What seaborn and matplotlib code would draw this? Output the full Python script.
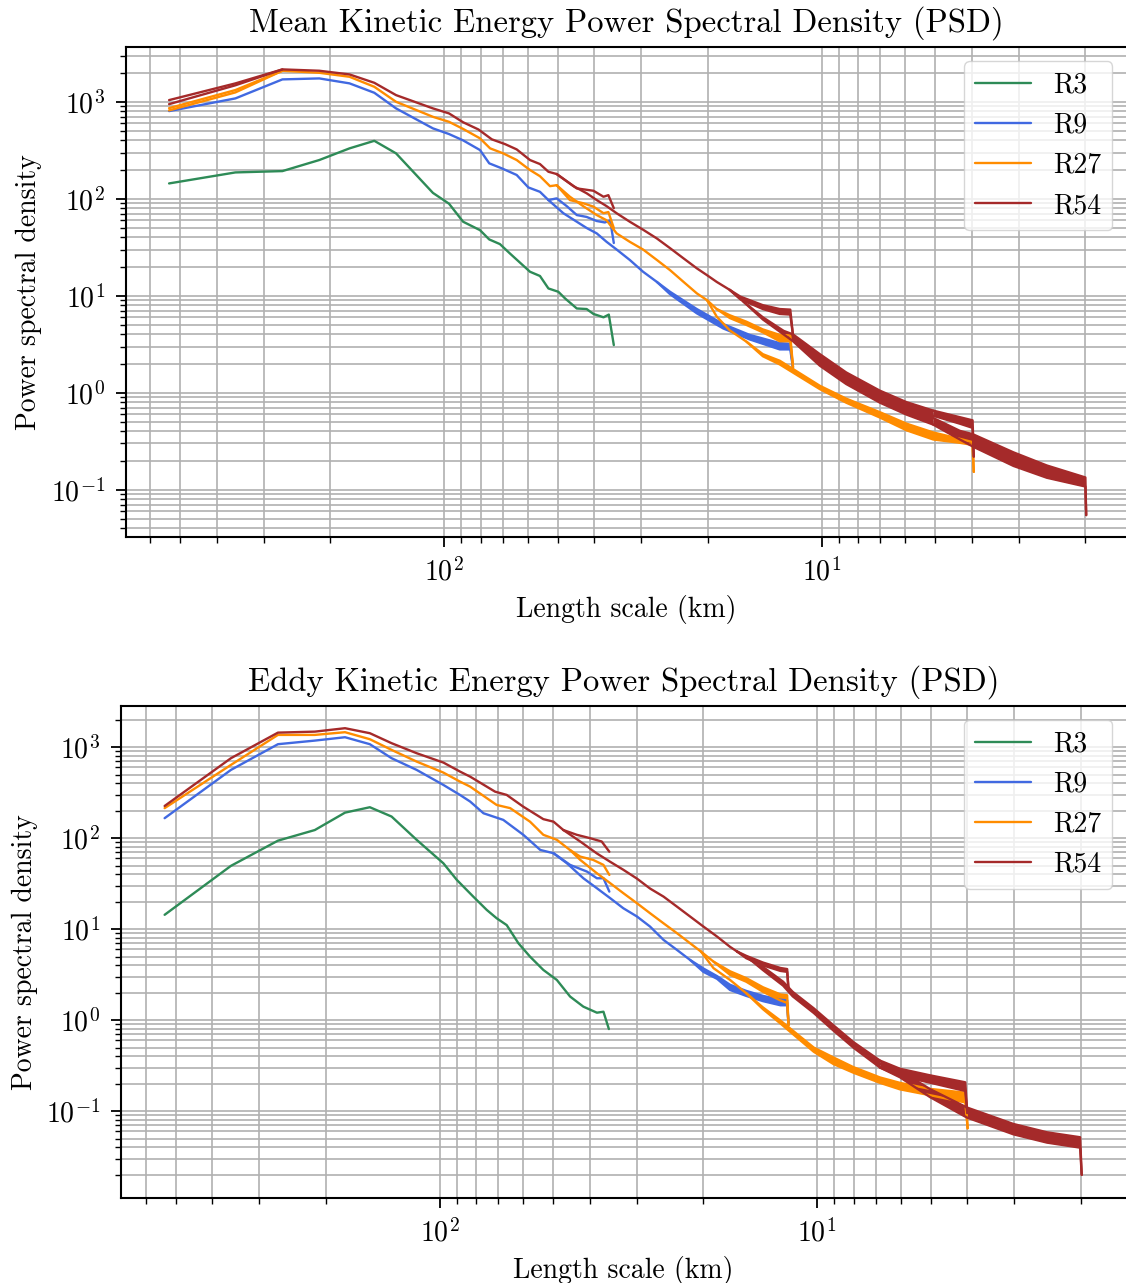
import matplotlib
matplotlib.use("Agg")
import matplotlib.pyplot as plt
import seaborn as sns

# values (length scale in km, PSD)
MODELS = ["R3", "R9", "R27", "R54"]
COLORS = {"R3": "seagreen", "R9": "royalblue", "R27": "darkorange", "R54": "brown"}

# ---------- Mean kinetic energy ----------
MKE_R3_X = [535, 357, 268, 214, 178, 153, 134, 107, 97, 89, 80.3, 75.9, 71.1, 66.9, 59.2, 55.7,
            52.9, 49.8, 47.8, 44.5, 41.9, 40.2, 37.8, 36.6, 35.5]
MKE_R3_Y = [144, 187, 193, 251, 331, 396, 294, 115, 89, 58, 47.5, 38.1, 34.1, 27.3, 17.7, 16.0,
            11.9, 11.0, 9.4, 7.4, 7.3, 6.5, 6.0, 6.4, 3.1]

MKE_R9_X = [535, 357, 268, 214, 178, 153, 134, 107, 97, 89, 80.3, 75.9, 70.3, 64.2, 59.8, 55.7, 52.9]
MKE_R9_Y = [802, 1084, 1702, 1742, 1549, 1239, 855, 532, 465, 400, 318, 232, 206, 176, 131, 118, 97]
MKE_R9_A_X = [52.9, 50.3, 47.3, 44.5, 41.9, 39.4, 37.5, 36.3, 35.5]
MKE_R9_A_Y = [97, 101, 84, 68, 65, 59, 57, 60, 35]
MKE_R9_B_X = [52.9, 48.3, 44.5, 41.9, 39.4, 37.1, 34.9, 32.2, 29.7, 27.3, 25.2, 21.4, 18.2, 15.5,
              12.9, 12.1, 11.9]
MKE_R9_B_Y = [97, 71, 58, 50, 44, 36, 30, 23.4, 17.7, 13.9, 11.0, 7.3, 5.1, 3.95, 3.25, 3.2, 1.79]
MKE_R9_B_LO = [13.9, 10.4, 6.6, 4.6, 3.55, 2.8, 2.8, 1.79]

MKE_R27_X = [535, 357, 268, 214, 178, 153, 134, 107, 97, 89, 80.3, 75.5, 69.7, 64.2, 59.2, 55.7,
             52.4, 50.3]
MKE_R27_Y = [860, 1321, 2090, 1991, 1811, 1428, 1000, 700, 622, 525, 420, 331, 294, 251, 198, 171,
             135, 138]
MKE_R27_ALT_X = [535, 357, 268]
MKE_R27_ALT_Y = [815, 1250, 2090]
MKE_R27_A_X = [50.3, 46.4, 42.8, 40.2, 37.8, 36.7, 35.5]
MKE_R27_A_Y = [138, 97, 90, 83, 71, 73, 50]
MKE_R27_M_X = [50.3, 46.4, 42.8, 39.4, 37.1, 34.9, 32.2, 29.7, 27.3, 25.2, 23.2, 21.4, 20.1]
MKE_R27_M_Y = [138, 105, 84, 68, 60, 44, 36, 30, 23.4, 18.4, 13.9, 10.6, 9.0]
MKE_R27_B_X = [20.1, 18.95, 17.5, 15.8, 14.3, 12.9, 12.1, 11.9]
MKE_R27_B_Y = [9.0, 7.3, 6.3, 5.4, 4.5, 3.95, 3.9, 1.85]
MKE_R27_B_LO = [7.3, 5.9, 5.0, 4.2, 3.4, 3.4, 1.85]
MKE_R27_C_X = [20.1, 18.95, 17.5, 15.8, 14.3, 12.9, 10.1, 8.6, 7.0, 5.95, 5.06, 4.30, 3.98, 3.95]
MKE_R27_C_Y = [9.0, 6.1, 4.4, 3.36, 2.5, 2.14, 1.18, 0.87, 0.63, 0.48, 0.39, 0.335, 0.31, 0.153]
MKE_R27_C_LO = [3.36, 2.38, 1.96, 1.09, 0.79, 0.555, 0.41, 0.33, 0.305, 0.29, 0.153]

MKE_R54_X = [535, 357, 268, 214, 178, 153, 134, 107, 97, 89, 81.1, 74.7, 68.9, 64.2, 59.2, 55.7,
             52.9, 50.3]
MKE_R54_Y = [1041, 1548, 2158, 2090, 1915, 1570, 1172, 855, 759, 615, 519, 410, 366, 323, 251, 228,
             190, 180]
MKE_R54_ALT_X = [535, 357, 268]
MKE_R54_ALT_Y = [946, 1480, 2158]
MKE_R54_A_X = [50.3, 44.5, 40.2, 37.8, 36.7, 35.5]
MKE_R54_A_Y = [180, 128, 121, 105, 109, 80]
MKE_R54_M_X = [50.3, 45.4, 41.9, 39.4, 37.1, 34.9, 32.2, 29.7, 27.3, 25.2, 23.2, 21.4, 20.1, 18.95, 17.5]
MKE_R54_M_Y = [180, 135, 114, 97, 84, 71, 58, 48, 39, 31, 24.3, 19.2, 16.3, 13.9, 11.5]
MKE_R54_B_X = [17.5, 16.4, 14.3, 12.9, 12.1, 11.9]
MKE_R54_B_Y = [11.5, 9.8, 8.0, 7.3, 7.2, 3.9]
MKE_R54_B_LO = [11.5, 9.2, 7.3, 6.5, 6.4, 3.9]
MKE_R54_CD_X = [17.5, 16.1, 14.3, 12.6, 11.9, 10.1, 8.6, 7.0, 5.95, 5.06]
MKE_R54_CD_Y = [11.5, 8.7, 6.0, 4.35, 4.0, 2.5, 1.62, 1.05, 0.80, 0.655]
MKE_R54_CD_LO = [8.7, 5.7, 4.0, 3.4, 1.9, 1.23, 0.79, 0.595, 0.47]
MKE_R54_C_X = [5.06, 4.30, 3.98, 3.95]
MKE_R54_C_Y = [0.655, 0.56, 0.52, 0.22]
MKE_R54_C_LO = [0.58, 0.48, 0.435, 0.22]
MKE_R54_D_X = [5.06, 4.30, 3.98, 3.10, 2.53, 2.00, 1.99]
MKE_R54_D_Y = [0.55, 0.405, 0.375, 0.243, 0.178, 0.134, 0.0548]
MKE_R54_D_LO = [0.47, 0.33, 0.28, 0.176, 0.133, 0.108, 0.0548]

# ---------- Eddy kinetic energy ----------
EKE_R3_X = [535, 357, 268, 214, 178, 153, 134, 115, 97.7, 90.0, 81.4, 75.0, 70.6, 66.4, 61.8, 57.6,
            53.1, 48.9, 45.1, 41.6, 38.3, 36.8, 35.6]
EKE_R3_Y = [14.4, 49.7, 94, 123, 191, 219, 173, 96, 53, 34.8, 22.8, 16.3, 13.2, 11.1, 7.0, 5.0,
            3.57, 2.77, 1.82, 1.41, 1.21, 1.24, 0.80]

EKE_R9_X = [535, 357, 268, 214, 178, 153, 134, 115, 97.7, 88.3, 83.0, 76.5, 67.8, 60.0, 54.1, 49.9]
EKE_R9_Y = [166, 563, 1079, 1182, 1287, 1079, 757, 563, 385, 299, 253, 188, 159, 109, 74.3, 68.4]
EKE_R9_A_X = [49.9, 45.1, 40.7, 38.3, 36.8, 35.5]
EKE_R9_A_Y = [68.4, 50.9, 43, 36.3, 36.3, 25.9]
EKE_R9_B_X = [49.9, 46.0, 41.6, 38.3, 35.3, 32.6, 30.0, 27.7, 25.5, 23.5, 21.7, 20.0, 18.4, 17.0,
              15.4, 13.9, 12.5, 12.0, 11.9]
EKE_R9_B_Y = [68.4, 53.1, 36.3, 28.2, 21.9, 17.0, 13.8, 10.7, 7.62, 5.92, 4.6, 3.7, 3.05, 2.45, 2.1,
              1.85, 1.68, 1.65, 0.9]
EKE_R9_B_LO = [4.6, 3.4, 2.85, 2.15, 1.85, 1.62, 1.46, 1.46, 0.9]

EKE_R27_X = [535, 357, 268, 214, 178, 153, 134, 115, 97.7, 88.3, 83.0, 70.6, 65.0, 57.6, 53.1, 48.9, 45.1]
EKE_R27_Y = [214, 639, 1365, 1365, 1462, 1224, 934, 695, 526, 419, 369, 232, 214, 152, 109, 96, 74]
EKE_R27_A_X = [45.1, 42.4, 39.2, 36.8, 35.5]
EKE_R27_A_Y = [74, 62.8, 57.8, 50.9, 39.5]
EKE_R27_M_X = [45.1, 42.4, 38.3, 35.3, 32.6, 30.0, 27.7, 25.5, 23.5, 21.7, 20.3]
EKE_R27_M_Y = [74, 57.8, 41.2, 32.0, 24.9, 19.3, 15.0, 11.6, 9.04, 7.02, 5.68]
EKE_R27_B_X = [20.3, 18.8, 17.0, 15.4, 13.9, 12.5, 12.0, 11.9]
EKE_R27_B_Y = [5.68, 4.4, 3.45, 2.9, 2.3, 1.92, 1.88, 0.88]
EKE_R27_B_LO = [4.4, 3.15, 2.65, 2.05, 1.65, 1.55, 0.88]
EKE_R27_C_X = [20.3, 18.8, 17.0, 15.4, 13.9, 12.5, 10.2, 9.05, 8.01, 6.81, 6.03, 5.02, 4.05, 3.99]
EKE_R27_C_Y = [5.68, 3.73, 2.77, 1.98, 1.38, 0.99, 0.50, 0.39, 0.305, 0.235, 0.205, 0.176, 0.16, 0.065]
EKE_R27_C_LO = [1.98, 1.32, 0.92, 0.45, 0.33, 0.265, 0.205, 0.174, 0.15, 0.125, 0.065]

EKE_R54_X = [535, 357, 268, 214, 178, 153, 134, 115, 97.7, 88.3, 83.0, 71.3, 66.4, 60.0, 53.1, 49.9, 47.0]
EKE_R54_Y = [226, 757, 1446, 1483, 1617, 1425, 1107, 859, 678, 540, 475, 325, 299, 222, 162, 152, 123]
EKE_R54_A_X = [47.0, 43.3, 39.9, 37.2, 35.5]
EKE_R54_A_Y = [123, 109, 100, 92, 71]
EKE_R54_M_X = [47.0, 42.4, 38.3, 35.3, 32.6, 30.0, 27.7, 25.5, 23.5, 21.7, 20.0, 18.4, 17.0, 16.3]
EKE_R54_M_Y = [123, 92, 68, 55, 45, 36, 28, 22.8, 17.7, 13.8, 10.7, 8.3, 6.4, 5.7]
EKE_R54_B_X = [16.3, 15.4, 13.9, 12.5, 12.0, 11.9]
EKE_R54_B_Y = [5.7, 5.1, 4.3, 3.75, 3.65, 2.15]
EKE_R54_B_LO = [5.7, 4.8, 4.0, 3.48, 3.4, 2.15]
EKE_R54_CD_X = [16.3, 15.0, 13.9, 12.3, 11.6, 10.2, 9.05, 8.01, 6.81]
EKE_R54_CD_Y = [5.7, 4.6, 3.85, 2.65, 2.05, 1.35, 0.88, 0.575, 0.36]
EKE_R54_CD_LO = [4.6, 3.55, 2.4, 1.83, 1.2, 0.77, 0.5, 0.302]
EKE_R54_C_X = [6.81, 6.03, 5.02, 4.05, 4.0]
EKE_R54_C_Y = [0.36, 0.293, 0.248, 0.208, 0.0958]
EKE_R54_C_LO = [0.302, 0.245, 0.206, 0.167, 0.0958]
EKE_R54_D_X = [6.81, 6.03, 5.02, 4.01, 3.02, 2.46, 2.01, 1.99]
EKE_R54_D_Y = [0.335, 0.28, 0.175, 0.11, 0.0725, 0.0587, 0.0518, 0.020]
EKE_R54_D_LO = [0.302, 0.236, 0.143, 0.0853, 0.0558, 0.0452, 0.0398, 0.020]

MKE_PIECES = {
    "R3": [(MKE_R3_X, MKE_R3_Y, None)],
    "R9": [(MKE_R9_X, MKE_R9_Y, None), (MKE_R9_A_X, MKE_R9_A_Y, None),
           (MKE_R9_B_X, MKE_R9_B_Y, MKE_R9_B_LO)],
    "R27": [(MKE_R27_X, MKE_R27_Y, None), (MKE_R27_ALT_X, MKE_R27_ALT_Y, None),
            (MKE_R27_A_X, MKE_R27_A_Y, None), (MKE_R27_M_X, MKE_R27_M_Y, None),
            (MKE_R27_B_X, MKE_R27_B_Y, MKE_R27_B_LO), (MKE_R27_C_X, MKE_R27_C_Y, MKE_R27_C_LO)],
    "R54": [(MKE_R54_X, MKE_R54_Y, None), (MKE_R54_ALT_X, MKE_R54_ALT_Y, None),
            (MKE_R54_A_X, MKE_R54_A_Y, None), (MKE_R54_M_X, MKE_R54_M_Y, None),
            (MKE_R54_B_X, MKE_R54_B_Y, MKE_R54_B_LO), (MKE_R54_CD_X, MKE_R54_CD_Y, MKE_R54_CD_LO),
            (MKE_R54_C_X, MKE_R54_C_Y, MKE_R54_C_LO), (MKE_R54_D_X, MKE_R54_D_Y, MKE_R54_D_LO)],
}
EKE_PIECES = {
    "R3": [(EKE_R3_X, EKE_R3_Y, None)],
    "R9": [(EKE_R9_X, EKE_R9_Y, None), (EKE_R9_A_X, EKE_R9_A_Y, None),
           (EKE_R9_B_X, EKE_R9_B_Y, EKE_R9_B_LO)],
    "R27": [(EKE_R27_X, EKE_R27_Y, None), (EKE_R27_A_X, EKE_R27_A_Y, None),
            (EKE_R27_M_X, EKE_R27_M_Y, None), (EKE_R27_B_X, EKE_R27_B_Y, EKE_R27_B_LO),
            (EKE_R27_C_X, EKE_R27_C_Y, EKE_R27_C_LO)],
    "R54": [(EKE_R54_X, EKE_R54_Y, None), (EKE_R54_A_X, EKE_R54_A_Y, None),
            (EKE_R54_M_X, EKE_R54_M_Y, None), (EKE_R54_B_X, EKE_R54_B_Y, EKE_R54_B_LO),
            (EKE_R54_CD_X, EKE_R54_CD_Y, EKE_R54_CD_LO), (EKE_R54_C_X, EKE_R54_C_Y, EKE_R54_C_LO),
            (EKE_R54_D_X, EKE_R54_D_Y, EKE_R54_D_LO)],
}

sns.set_style("ticks", {"axes.edgecolor": "black", "xtick.color": "black", "ytick.color": "black",
                        "text.color": "black", "axes.labelcolor": "black"})
plt.rcParams["font.family"] = ["cmr10", "DejaVu Serif"]
plt.rcParams["mathtext.fontset"] = "cm"
plt.rcParams["axes.formatter.use_mathtext"] = True
plt.rcParams["axes.unicode_minus"] = False

LW = 1.7


def draw_piece(ax, x, y, lo, color, label=None):
    sns.lineplot(x=x, y=y, ax=ax, color=color, lw=LW, sort=False, estimator=None, label=label)
    if lo is not None:
        n = len(lo)
        sns.lineplot(x=x[-n:], y=lo, ax=ax, color=color, lw=LW, sort=False, estimator=None)
        ax.fill_between(x[-n:], lo, y[-n:], color=color, lw=0)


def draw_panel(ax, pieces, title, xlim, ylim):
    ax.set_xscale("log")
    ax.set_yscale("log")
    for model in MODELS:
        for i, (x, y, lo) in enumerate(pieces[model]):
            draw_piece(ax, x, y, lo, COLORS[model], label=model if i == 0 else None)
    ax.set_xlim(*xlim)
    ax.set_ylim(*ylim)
    ax.grid(True, which="both", color="#b0b0b0", lw=1.2)
    ax.set_axisbelow(True)
    ax.set_title(title, fontsize=23.5, pad=11)
    ax.set_xlabel("Length scale (km)", fontsize=20, labelpad=6)
    ax.set_ylabel("Power spectral density", fontsize=20, labelpad=6)
    ax.tick_params(which="major", length=7, width=1.3, labelsize=20, pad=8)
    ax.tick_params(which="minor", length=4, width=1.0)
    for s in ax.spines.values():
        s.set_color("black")
        s.set_linewidth(1.5)
    ax.spines["right"].set_visible(False)
    ax.legend(loc="upper right", fontsize=20)


fig = plt.figure(figsize=(11.26, 12.83), dpi=100)
ax_top = fig.add_axes([0.1119, 0.5814, 0.8881, 0.3819])
ax_bot = fig.add_axes([0.1075, 0.0663, 0.8925, 0.3835])

draw_panel(ax_top, MKE_PIECES, "Mean Kinetic Energy Power Spectral Density (PSD)",
           (695.8, 1.561), (0.03254, 3665))
draw_panel(ax_bot, EKE_PIECES, "Eddy Kinetic Energy Power Spectral Density (PSD)",
           (697.9, 1.519), (0.01115, 2843))

fig.savefig("out.png", dpi=100)
